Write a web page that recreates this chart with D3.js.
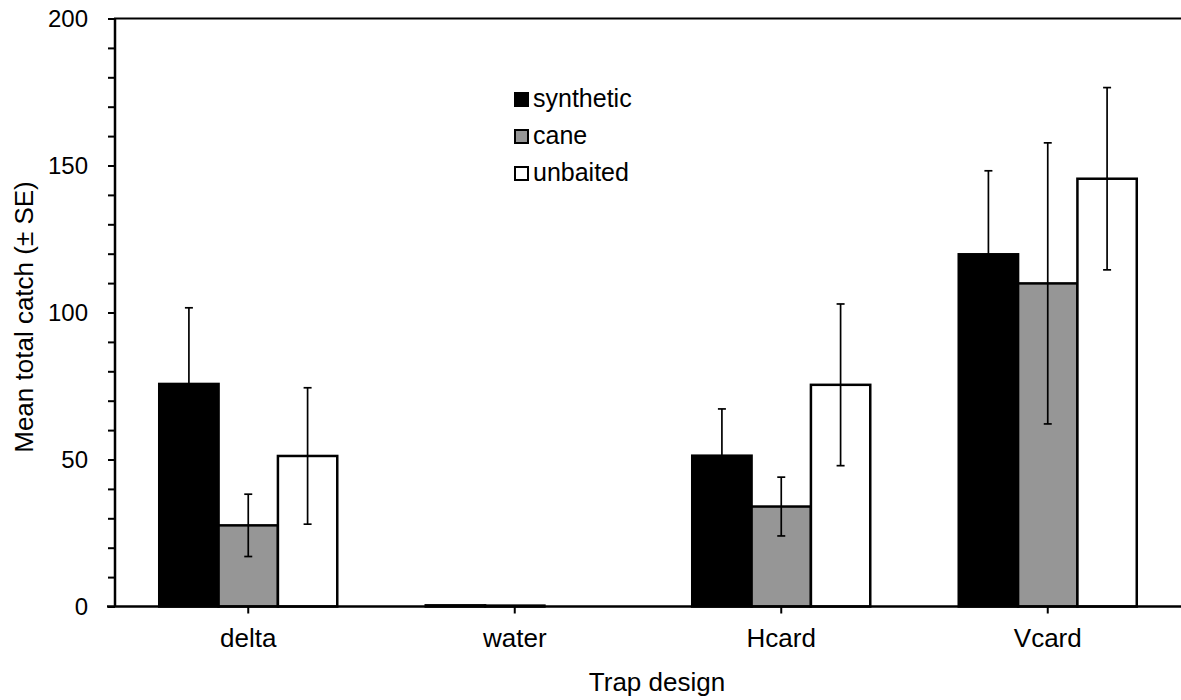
<!DOCTYPE html>
<html><head><meta charset="utf-8">
<script src="https://cdn.jsdelivr.net/npm/d3@7"></script>
<style>
body{margin:0;background:#fff;}
text{font-family:"Liberation Sans",Arial,sans-serif;fill:#000;}
</style></head>
<body><svg id="c" width="1181" height="700"></svg>
<script>
const categories = ["delta","water","Hcard","Vcard"];
const seriesNames = ["synthetic","cane","unbaited"];
const synthetic = [75.7, 0.4, 51.3, 119.8];
const cane = [27.6, 0.3, 34.0, 109.9];
const unbaited = [51.2, 0, 75.4, 145.5];
const syntheticSE = [25.9, 0, 15.9, 28.4];
const caneSE = [10.6, 0, 10.0, 47.8];
const unbaitedSE = [23.2, 0, 27.5, 31.0];
const yTicks = [0,50,100,150,200];
const fills = ["#000000","#969696","#ffffff"];

const svg = d3.select("#c");
const L = 115, R = 1181, T = 18.5, B = 606.5;
const x = d3.scaleBand().domain(categories).range([L,R]).paddingInner(0.332).paddingOuter(0.166);
const xs = d3.scaleBand().domain(seriesNames).range([0, x.bandwidth()]);
const y = d3.scaleLinear().domain([0,200]).range([B,T]);

const values = [synthetic, cane, unbaited];
const ses = [syntheticSE, caneSE, unbaitedSE];
const data = [];
seriesNames.forEach((s,si)=>categories.forEach((c,ci)=>data.push({s,si,c,v:values[si][ci],e:ses[si][ci]})));

// bars
svg.append("g").selectAll("rect").data(data).join("rect")
  .attr("x", d=>x(d.c)+xs(d.s))
  .attr("y", d=>y(d.v))
  .attr("width", xs.bandwidth())
  .attr("height", d=>B-y(d.v))
  .attr("fill", d=>fills[d.si])
  .attr("stroke", "#000")
  .attr("stroke-width", d=>d.v>0?2.5:0);

// error bars
const eb = svg.append("g").attr("stroke","#000").attr("stroke-width",1.7);
data.filter(d=>d.e>0).forEach(d=>{
  const cx = x(d.c)+xs(d.s)+xs.bandwidth()/2;
  eb.append("line").attr("x1",cx).attr("x2",cx).attr("y1",y(d.v+d.e)).attr("y2",y(d.v-d.e));
  eb.append("line").attr("x1",cx-4).attr("x2",cx+4).attr("y1",y(d.v+d.e)).attr("y2",y(d.v+d.e));
  eb.append("line").attr("x1",cx-4).attr("x2",cx+4).attr("y1",y(d.v-d.e)).attr("y2",y(d.v-d.e));
});

// top border
svg.append("line").attr("x1",L-1).attr("x2",R).attr("y1",T).attr("y2",T).attr("stroke","#000").attr("stroke-width",2);

// y axis
const ya = svg.append("g").attr("transform",`translate(${L},0)`)
  .call(d3.axisLeft(y).tickValues(d3.range(0,201,10)).tickSize(7).tickPadding(20)
    .tickFormat(v=>yTicks.includes(v)?String(v):""));
ya.select(".domain").attr("stroke-width",2.5).attr("d",`M0,${T}V${B}`);
ya.selectAll(".tick line").attr("stroke-width",2);
ya.selectAll("text").style("font-size","24px").attr("font-family",null);

// x axis
const xa = svg.append("g").attr("transform",`translate(0,${B})`)
  .call(d3.axisBottom(x).tickSize(7).tickPadding(15));
xa.select(".domain").attr("stroke-width",2.5).attr("d",`M${L-8},0H${R}`);
xa.selectAll(".tick line").attr("stroke-width",2);
xa.selectAll("text").style("font-size","26px").attr("font-family",null);

// axis titles
svg.append("text").attr("x",657).attr("y",691).attr("text-anchor","middle").style("font-size","26px").text("Trap design");
svg.append("text").attr("transform","translate(33,317) rotate(-90)").attr("text-anchor","middle").style("font-size","26px").text("Mean total catch (\u00b1 SE)");

// legend
const lg = svg.append("g");
seriesNames.forEach((s,i)=>{
  const yy = 93 + i*37;
  lg.append("rect").attr("x",515).attr("y",yy).attr("width",13).attr("height",13)
    .attr("fill",fills[i]).attr("stroke","#000").attr("stroke-width",2);
  lg.append("text").attr("x",533).attr("y",yy+14).style("font-size","25px").text(s);
});
</script></body></html>
